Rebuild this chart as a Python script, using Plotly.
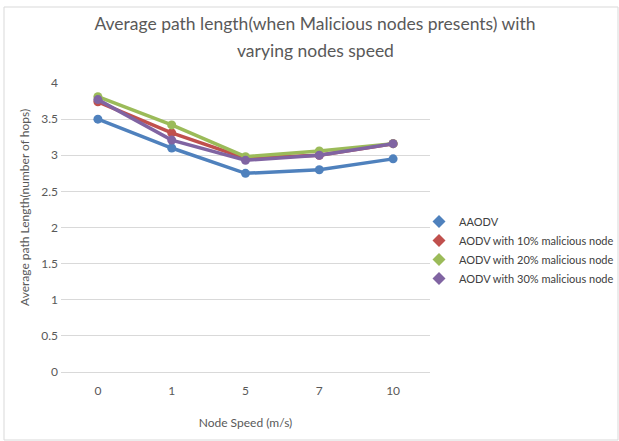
import plotly.graph_objects as go

speeds = ["0", "1", "5", "7", "10"]
series_names = ["AAODV", "AODV with 10% malicious node", "AODV with 20% malicious node", "AODV with 30% malicious node"]
aaodv = [3.5, 3.1, 2.75, 2.8, 2.95]
mal10 = [3.74, 3.31, 2.96, 3.0, 3.16]
mal20 = [3.81, 3.42, 2.98, 3.06, 3.16]
mal30 = [3.77, 3.21, 2.93, 3.0, 3.16]
colors = ["#4F81BD", "#C0504D", "#9BBB59", "#8064A2"]
title_lines = ["Average path length(when Malicious nodes presents) with", "varying nodes speed"]

fig = go.Figure()
for name, vals, c in zip(series_names, [aaodv, mal10, mal20, mal30], colors):
    fig.add_trace(go.Scatter(x=speeds, y=vals, mode="lines+markers", name=name,
                             line=dict(color=c, width=3.5), marker=dict(color=c, size=9),
                             showlegend=False))
for name, c in zip(series_names, colors):
    fig.add_trace(go.Scatter(x=[None], y=[None], mode="markers", name=name,
                             marker=dict(color=c, size=10, symbol="diamond")))

font = "Lato, 'Open Sans', sans-serif"
L, R, T, B = 61, 430, 83, 372
W, H = R - L, B - T
fig.update_layout(
    width=619, height=441,
    margin=dict(l=L, r=619 - R, t=T, b=441 - B, autoexpand=False),
    paper_bgcolor="white", plot_bgcolor="white",
    font=dict(family=font, color="#595959", size=12),
    title=dict(text=title_lines[0],
               x=315 / 619, xanchor="center", y=1 - 24 / 441, yanchor="middle",
               font=dict(size=17.5, color="#595959", family=font)),
    legend=dict(x=(419 - L) / W, xanchor="left", y=(B - 250) / H, yanchor="middle",
                font=dict(size=11, color="#404040"), itemwidth=30,
                tracegroupgap=0, bgcolor="rgba(0,0,0,0)"),
    xaxis=dict(type="category", range=[-0.5, 4.5], showgrid=False, showline=True, linecolor="#d9d9d9",
               ticks="", ticklabelstandoff=8, tickfont=dict(size=12, color="#595959"),
               title=dict(text="Node Speed (m/s)", font=dict(size=12, color="#595959"), standoff=21)),
    yaxis=dict(range=[0, 4], dtick=0.5, showgrid=True, gridcolor="#d9d9d9", zeroline=False,
               showline=False, tickfont=dict(size=12, color="#595959"), ticks="", ticklabelstandoff=2),
    annotations=[
        dict(text="Average path Length(number of hops)", textangle=-90,
             xref="paper", yref="paper", x=(24 - L) / W, y=(B - 208) / H,
             xanchor="center", yanchor="middle", showarrow=False,
             font=dict(size=12, color="#595959")),
        dict(text=title_lines[1], xref="paper", yref="paper", x=(315 - L) / W, y=(B - 50) / H,
             xanchor="center", yanchor="middle", showarrow=False,
             font=dict(size=17.5, color="#595959")),
    ],
)
fig.add_shape(type="rect", xref="paper", yref="paper",
              x0=(4 - L) / W, x1=(618 - L) / W, y0=(B - 440) / H, y1=(B - 7) / H,
              line=dict(color="#d9d9d9", width=1))
fig.write_html("out.html", config={"displayModeBar": False},
               post_script="document.body.style.margin='0';")
